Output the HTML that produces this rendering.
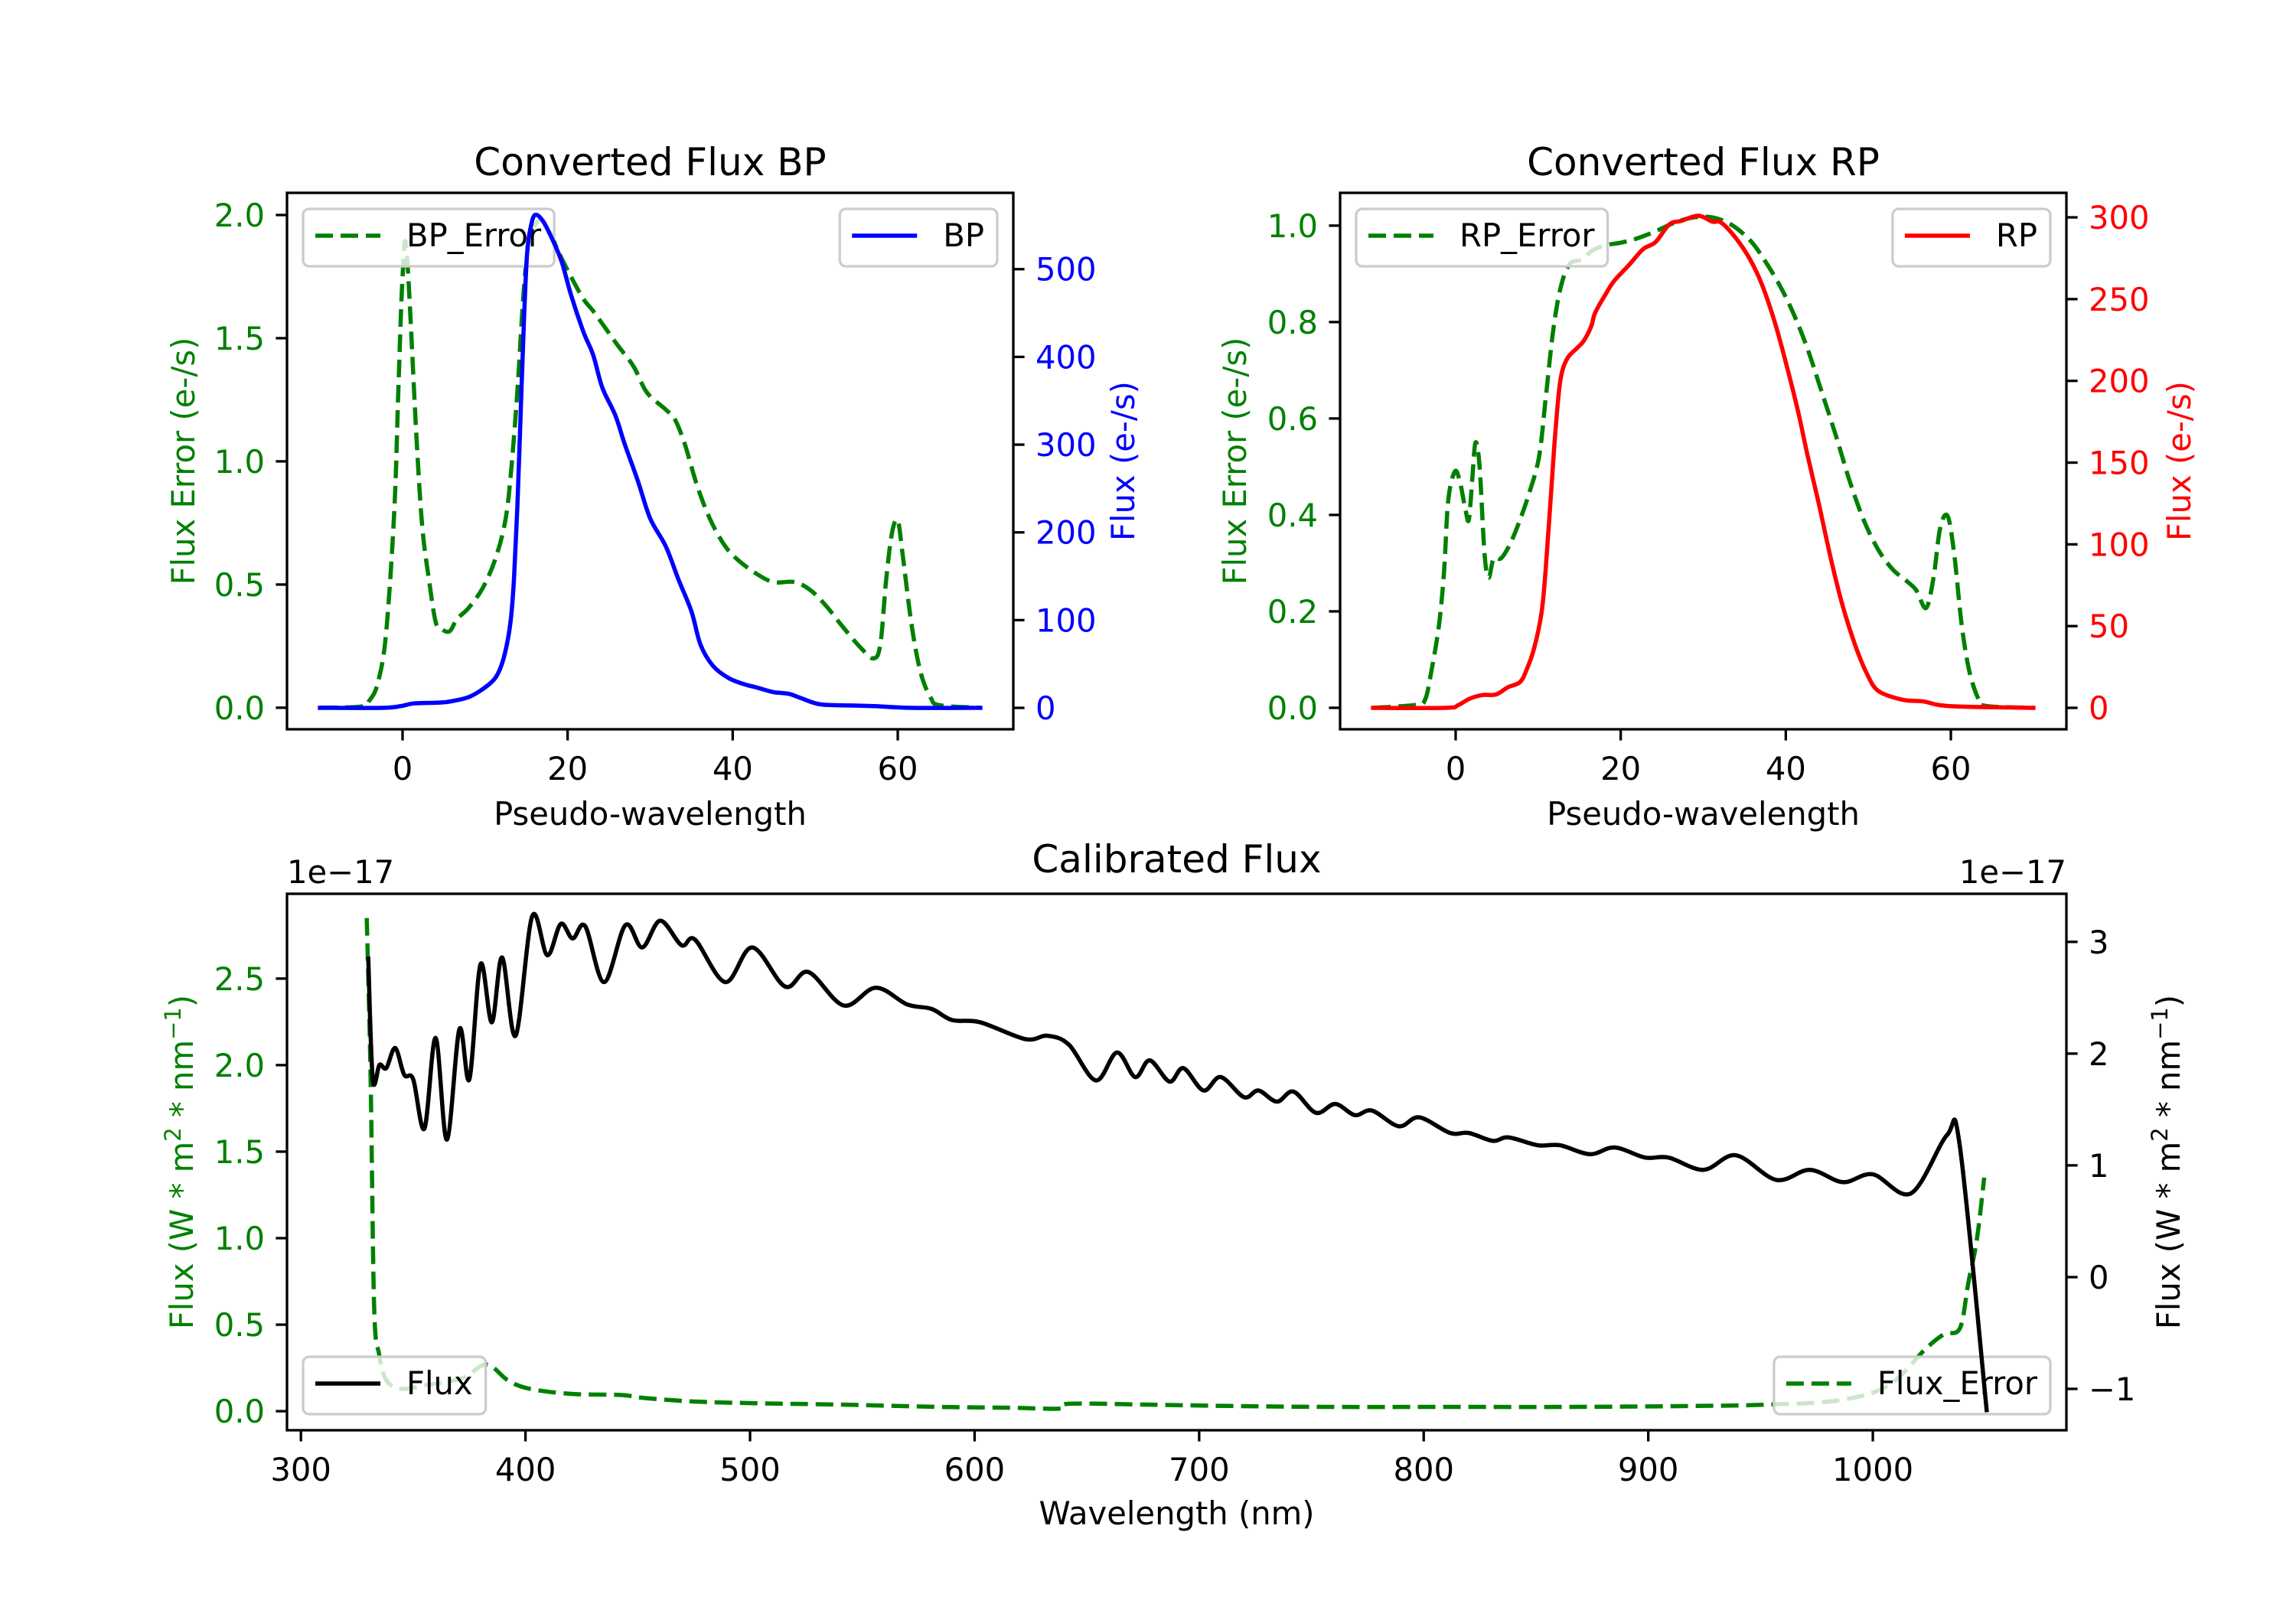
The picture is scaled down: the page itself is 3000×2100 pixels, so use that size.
<!DOCTYPE html>
<html><head><meta charset="utf-8"><style>
html,body{margin:0;padding:0;background:#fff}
svg{display:block}
text{font-family:"DejaVu Sans","Liberation Sans",sans-serif}
</style></head><body>
<svg id="fig" width="3000" height="2100" viewBox="0 0 3000 2100" xmlns="http://www.w3.org/2000/svg">
<rect x="0" y="0" width="3000" height="2100" fill="#fff"/>
</svg>
<script>
// ---- BP panel data ----
const bpErrX = [-10,-5,-4,-3,-2,-1,-0.5,0,0.5,1.7,2.4,3.2,4,4.7,5.7,6.6,8,9.7,11.2,12.4,13.1,13.9,14.7,15.4,16.6,17.7,18.9,20.4,21.9,23.1,24.6,26.1,28,29.6,31.9,33,34.2,35.7,37.2,38.8,40.3,42.6,44.9,47.5,49.5,51.4,53.3,55.6,57.1,57.9,58.6,59.3,60,60.6,61.7,62.8,64,65.1,70];
const bpErrY = [0,0.005,0.03,0.1,0.3,0.8,1.3,1.75,1.85,1.09,0.73,0.52,0.35,0.32,0.31,0.36,0.405,0.485,0.6,0.75,0.94,1.28,1.7,1.9,1.98,1.94,1.85,1.75,1.66,1.61,1.54,1.47,1.385,1.28,1.21,1.17,1.07,0.9,0.77,0.67,0.61,0.55,0.51,0.51,0.475,0.41,0.33,0.24,0.2,0.26,0.52,0.71,0.76,0.62,0.33,0.14,0.04,0.01,0];
const bpX = [-10,-2.5,-0.2,1.3,4.4,5.9,8.2,10.5,11.6,12.4,13.1,13.5,13.9,14.3,14.7,15.1,15.6,16.1,17,18.1,19.3,20.4,21.9,23.1,24.2,25.8,26.9,28.5,30,31.9,33.4,35,36.1,37.6,39.5,41.4,43,44.9,46.8,48.3,50.6,54.4,57.1,61.7,70];
const bpY = [0,0,2,5,6,7.5,13,27,40,62,99,147,227,333,439,519,551,562,555,535,508,471,429,402,365,333,301,259,216,184,147,110,72,48,34,27,23,18,16,11,4,2.7,2,0,0];
// ---- RP panel data ----
const rpErrX = [-10,-4.9,-3.7,-2.9,-2,-1.4,-0.9,-0.1,0.5,1.2,1.6,2,2.4,2.9,3.5,4,4.6,5.5,6.6,7.8,8.9,10.1,10.9,11.8,12.7,13.8,15.3,16.7,18.4,20.1,21.9,24.2,26.5,28.8,31.1,33.4,35.7,37.4,39.2,40.9,42.6,44.3,46.1,47.8,49.5,51.2,52.9,54.7,55.8,57,57.9,58.7,59.6,60.4,61.3,62.2,63.3,64.2,70];
const rpErrY = [0,0.006,0.017,0.08,0.174,0.284,0.43,0.49,0.47,0.41,0.39,0.47,0.55,0.5,0.32,0.27,0.31,0.31,0.34,0.39,0.445,0.52,0.64,0.78,0.87,0.92,0.93,0.95,0.96,0.965,0.973,0.988,1.006,1.017,1.017,1.002,0.969,0.929,0.878,0.819,0.746,0.658,0.563,0.467,0.387,0.328,0.288,0.262,0.244,0.207,0.27,0.372,0.398,0.32,0.174,0.079,0.02,0.004,0];
const rpX = [-10,-1.2,0.3,1.7,3.2,4.9,6.3,7.8,8.6,9.5,10.4,10.9,11.5,12.1,12.7,13.5,14.7,15.5,16.4,16.9,18.1,19.2,21,22.7,24.2,25.9,27.3,29.4,31.1,32.2,34,35.7,37.1,38.6,40,41.5,42.6,44,45.5,46.9,48.4,49.8,51.2,54.1,56.7,59.9,70];
const rpY = [0,0,1.7,5.6,7.8,8.2,12.5,15.8,23.3,36.3,57.9,83.9,127,170,200.6,213.5,220,224.3,233,241.6,252.4,261.1,270.8,280.5,284.8,295.7,297.8,301,297.4,296.7,287,274,259,237,211.4,181.1,155.2,124.9,90.3,62.2,38.5,21.2,10.4,5,3.9,1.1,0];
// ---- Calibrated panel data (flux in 1e-17) ----
const calX = [330,332,335,338,342,346,350,355,360,365,370.6,375,380,385,389.6,395.6,403,409.7,415.7,421,426.6,435,444.5,452,460,469.5,475.5,489,501,515.6,526,541.7,556,570,580.8,590,602.5,622.6,632.4,642,654,663.4,671.5,678,686.8,693,701.9,709.6,720,726.4,734.6,742,752,760.6,769.3,777,788.9,798,811.7,820,830.7,837.8,850.8,860.6,874,885,898.6,909,924.6,939,957,972,986.6,1000,1017,1033,1038.7,1050.7];
const calY = [2.85,1.77,1.9,1.87,2.05,1.81,1.77,1.33,2.14,1.23,2.22,1.77,2.8,2.28,2.86,2.16,3.23,2.88,3.16,3.03,3.14,2.64,3.15,2.95,3.19,2.97,3.02,2.64,2.95,2.6,2.73,2.43,2.59,2.44,2.4,2.3,2.28,2.13,2.16,2.08,1.76,2.01,1.79,1.94,1.75,1.87,1.67,1.79,1.61,1.67,1.57,1.66,1.47,1.55,1.45,1.49,1.35,1.43,1.29,1.29,1.22,1.25,1.18,1.18,1.1,1.16,1.07,1.07,0.96,1.09,0.87,0.96,0.85,0.92,0.75,1.27,1.18,-1.19];
const calErrX = [329.3,331,332.6,334.8,338,344.5,355.4,371.7,382.6,392,401.6,420.6,442.3,453,475,502,540,583.5,616,637.8,642,676,714,757,811.7,866,920,953,985.5,1007,1023.5,1031.7,1038.8,1042.5,1046.3,1049.6];
const calErrY = [2.85,1.96,0.61,0.33,0.18,0.13,0.15,0.19,0.27,0.18,0.13,0.1,0.094,0.076,0.056,0.046,0.038,0.025,0.02,0.015,0.043,0.038,0.03,0.025,0.025,0.025,0.03,0.038,0.064,0.15,0.36,0.445,0.48,0.74,0.99,1.35];
// ---- ticks ----
const pwTicks = [0,20,40,60];
const bpErrTicks = [0.0,0.5,1.0,1.5,2.0];
const bpTicks = [0,100,200,300,400,500];
const rpErrTicks = [0.0,0.2,0.4,0.6,0.8,1.0];
const rpTicks = [0,50,100,150,200,250,300];
const wlTicks = [300,400,500,600,700,800,900,1000];
const calErrTicks = [0.0,0.5,1.0,1.5,2.0,2.5];
const calTicks = [-1,0,1,2,3];

const NS='http://www.w3.org/2000/svg';
const fig=document.getElementById('fig');
function mk(tag,attrs,parent){const e=document.createElementNS(NS,tag);for(const k in attrs)e.setAttribute(k,attrs[k]);(parent||fig).appendChild(e);return e;}
function scale(d0,d1,p0,p1){return v=>p0+(v-d0)/(d1-d0)*(p1-p0);}
const LW=5.5, DASH='23 10', FS=41.7;
const GREEN='#008000';

function smoothPath(P){
  let d='M'+P[0][0].toFixed(1)+','+P[0][1].toFixed(1);
  const k=1/6;
  for(let i=0;i<P.length-1;i++){
    const p0=P[i-1]||P[i],p1=P[i],p2=P[i+1],p3=P[i+2]||P[i+1];
    const c1x=p1[0]+(p2[0]-p0[0])*k,c1y=p1[1]+(p2[1]-p0[1])*k;
    const c2x=p2[0]-(p3[0]-p1[0])*k,c2y=p2[1]-(p3[1]-p1[1])*k;
    d+=' C'+c1x.toFixed(1)+','+c1y.toFixed(1)+' '+c2x.toFixed(1)+','+c2y.toFixed(1)+' '+p2[0].toFixed(1)+','+p2[1].toFixed(1);
  }
  return d;
}
function line(xs,ys,sx,sy,color,dashed,name){
  const P=xs.map((x,i)=>[sx(x),sy(ys[i])]);
  const p=mk('path',{d:smoothPath(P),fill:'none',stroke:color,'stroke-width':LW,'stroke-linejoin':'round','stroke-linecap':dashed?'butt':'square'});
  if(dashed)p.setAttribute('stroke-dasharray',DASH);
  
  
}
function legend(x,y,label,color,dashed,align,name){
  const g=mk('g',{});
  
  
  const t=mk('text',{x:0,y:y+49,'font-size':FS,fill:'#000'},g);
  t.textContent=label;
  const tw=t.getComputedTextLength();
  const w=135+tw+17;
  const bx=align==='right'?x-w:x;
  mk('rect',{x:bx,y:y,width:w,height:75,rx:8,fill:'#fff','fill-opacity':0.8,stroke:'#cccccc','stroke-width':3.3},g);
  g.appendChild(t);
  t.setAttribute('x',bx+135);
  const h=mk('line',{x1:bx+16,y1:y+35,x2:bx+101,y2:y+35,stroke:color,'stroke-width':LW},g);
  if(dashed)h.setAttribute('stroke-dasharray',DASH);
}
function yticks(ticks,sy,xEdge,side,color,fmt,name){
  const g=mk('g',{});
  
  
  ticks.forEach(v=>{
    const y=sy(v);
    const d=side==='left'?-14.6:14.6;
    mk('line',{x1:xEdge,y1:y,x2:xEdge+d,y2:y,stroke:'#000','stroke-width':3.3},g);
    const t=mk('text',{x:side==='left'?xEdge-29:xEdge+29,y:y+15,'font-size':FS,fill:color,'text-anchor':side==='left'?'end':'start'},g);
    t.textContent=fmt(v);
  });
}
function xticks(ticks,sx,yEdge,fmt,name){
  const g=mk('g',{});
  
  
  ticks.forEach(v=>{
    const x=sx(v);
    mk('line',{x1:x,y1:yEdge,x2:x,y2:yEdge+14.6,stroke:'#000','stroke-width':3.3},g);
    const t=mk('text',{x:x,y:yEdge+66,'font-size':FS,fill:'#000','text-anchor':'middle'},g);
    t.textContent=fmt(v);
  });
}
function txt(x,y,s,size,color,rot,name,anchor){
  const t=mk('text',{x:x,y:y,'font-size':size,fill:color,'text-anchor':anchor||'middle'});
  if(rot)t.setAttribute('transform','rotate('+rot+' '+x+' '+y+')');
  t.textContent=s;
  
  
  return t;
}
function frame(l,t,r,b,name){
  const f=mk('rect',{x:l,y:t,width:r-l,height:b-t,fill:'none',stroke:'#000','stroke-width':3.3});
  
  
}
const f1=v=>v.toFixed(1), f0=v=>String(v).replace('-','\u2212');

// ===== Panel 1: BP =====
{
  const L=375,R=1324,T=252,B=953;
  const sx=scale(-14,74,L,R);
  const sy1=scale(-0.0875,2.09,B,T);
  const sy2=scale(-24.4,587,B,T);
  line(bpErrX,bpErrY,sx,sy1,GREEN,true,'bp-error-line');
  legend(L+21,T+21,'BP_Error',GREEN,true,'left','bp-error-legend');
  line(bpX,bpY,sx,sy2,'#0000ff',false,'bp-flux-line');
  legend(R-21,T+21,'BP','#0000ff',false,'right','bp-legend');
  frame(L,T,R,B,'bp-axes-frame');
  yticks(bpErrTicks,sy1,L,'left',GREEN,f1,'bp-error-y-ticks');
  yticks(bpTicks,sy2,R,'right','#0000ff',f0,'bp-flux-y-ticks');
  xticks(pwTicks,sx,B,f0,'bp-x-ticks');
  txt((L+R)/2,229,'Converted Flux BP',50,'#000',0,'bp-title');
  txt((L+R)/2,1078,'Pseudo-wavelength',FS,'#000',0,'bp-x-axis-title');
  txt(254,(T+B)/2,'Flux Error (e-/s)',FS,GREEN,-90,'bp-error-y-axis-title');
  txt(1482,(T+B)/2,'Flux (e-/s)',FS,'#0000ff',-90,'bp-flux-y-axis-title');
}
// ===== Panel 2: RP =====
{
  const L=1751,R=2700,T=252,B=953;
  const sx=scale(-14,74,L,R);
  const sy1=scale(-0.0445,1.068,B,T);
  const sy2=scale(-13.1,315,B,T);
  line(rpErrX,rpErrY,sx,sy1,GREEN,true,'rp-error-line');
  legend(L+21,T+21,'RP_Error',GREEN,true,'left','rp-error-legend');
  line(rpX,rpY,sx,sy2,'#ff0000',false,'rp-flux-line');
  legend(R-21,T+21,'RP','#ff0000',false,'right','rp-legend');
  frame(L,T,R,B,'rp-axes-frame');
  yticks(rpErrTicks,sy1,L,'left',GREEN,f1,'rp-error-y-ticks');
  yticks(rpTicks,sy2,R,'right','#ff0000',f0,'rp-flux-y-ticks');
  xticks(pwTicks,sx,B,f0,'rp-x-ticks');
  txt((L+R)/2,229,'Converted Flux RP',50,'#000',0,'rp-title');
  txt((L+R)/2,1078,'Pseudo-wavelength',FS,'#000',0,'rp-x-axis-title');
  txt(1628,(T+B)/2,'Flux Error (e-/s)',FS,GREEN,-90,'rp-error-y-axis-title');
  txt(2862,(T+B)/2,'Flux (e-/s)',FS,'#ff0000',-90,'rp-flux-y-axis-title');
}
// ===== Panel 3: Calibrated =====
{
  const L=375,R=2700,T=1168,B=1869;
  const sx=scale(293.8,1086.2,L,R);
  const sy1=scale(-0.11,2.99,B,T);
  const sy2=scale(-1.37,3.43,B,T);
  line(calErrX,calErrY,sx,sy1,GREEN,true,'flux-error-line');
  legend(R-21,B-96,'Flux_Error',GREEN,true,'right','flux-error-legend');
  line(calX,calY,sx,sy2,'#000',false,'calibrated-flux-line');
  legend(L+21,B-96,'Flux','#000',false,'left','flux-legend');
  frame(L,T,R,B,'calibrated-axes-frame');
  yticks(calErrTicks,sy1,L,'left',GREEN,f1,'flux-error-y-ticks');
  yticks(calTicks,sy2,R,'right','#000',f0,'flux-y-ticks');
  xticks(wlTicks,sx,B,f0,'wavelength-x-ticks');
  txt((L+R)/2,1140,'Calibrated Flux',50,'#000',0,'calibrated-title');
  txt((L+R)/2,1992,'Wavelength (nm)',FS,'#000',0,'wavelength-x-axis-title');
  txt(L,1154,'1e\u221217',FS,'#000',0,'left-offset-text','start');
  txt(R,1154,'1e\u221217',FS,'#000',0,'right-offset-text','end');
  const lt=txt(252,(T+B)/2,'',FS,GREEN,-90,'flux-error-y-axis-title');
  lt.innerHTML='Flux (W * m<tspan dy="-16" font-size="29">2</tspan><tspan dy="16"> * nm</tspan><tspan dy="-16" font-size="29">\u22121</tspan><tspan dy="16">)</tspan>';
  const rt=txt(2848,(T+B)/2,'',FS,'#000',-90,'flux-y-axis-title');
  rt.innerHTML='Flux (W * m<tspan dy="-16" font-size="29">2</tspan><tspan dy="16"> * nm</tspan><tspan dy="-16" font-size="29">\u22121</tspan><tspan dy="16">)</tspan>';
}
</script>
</body></html>
